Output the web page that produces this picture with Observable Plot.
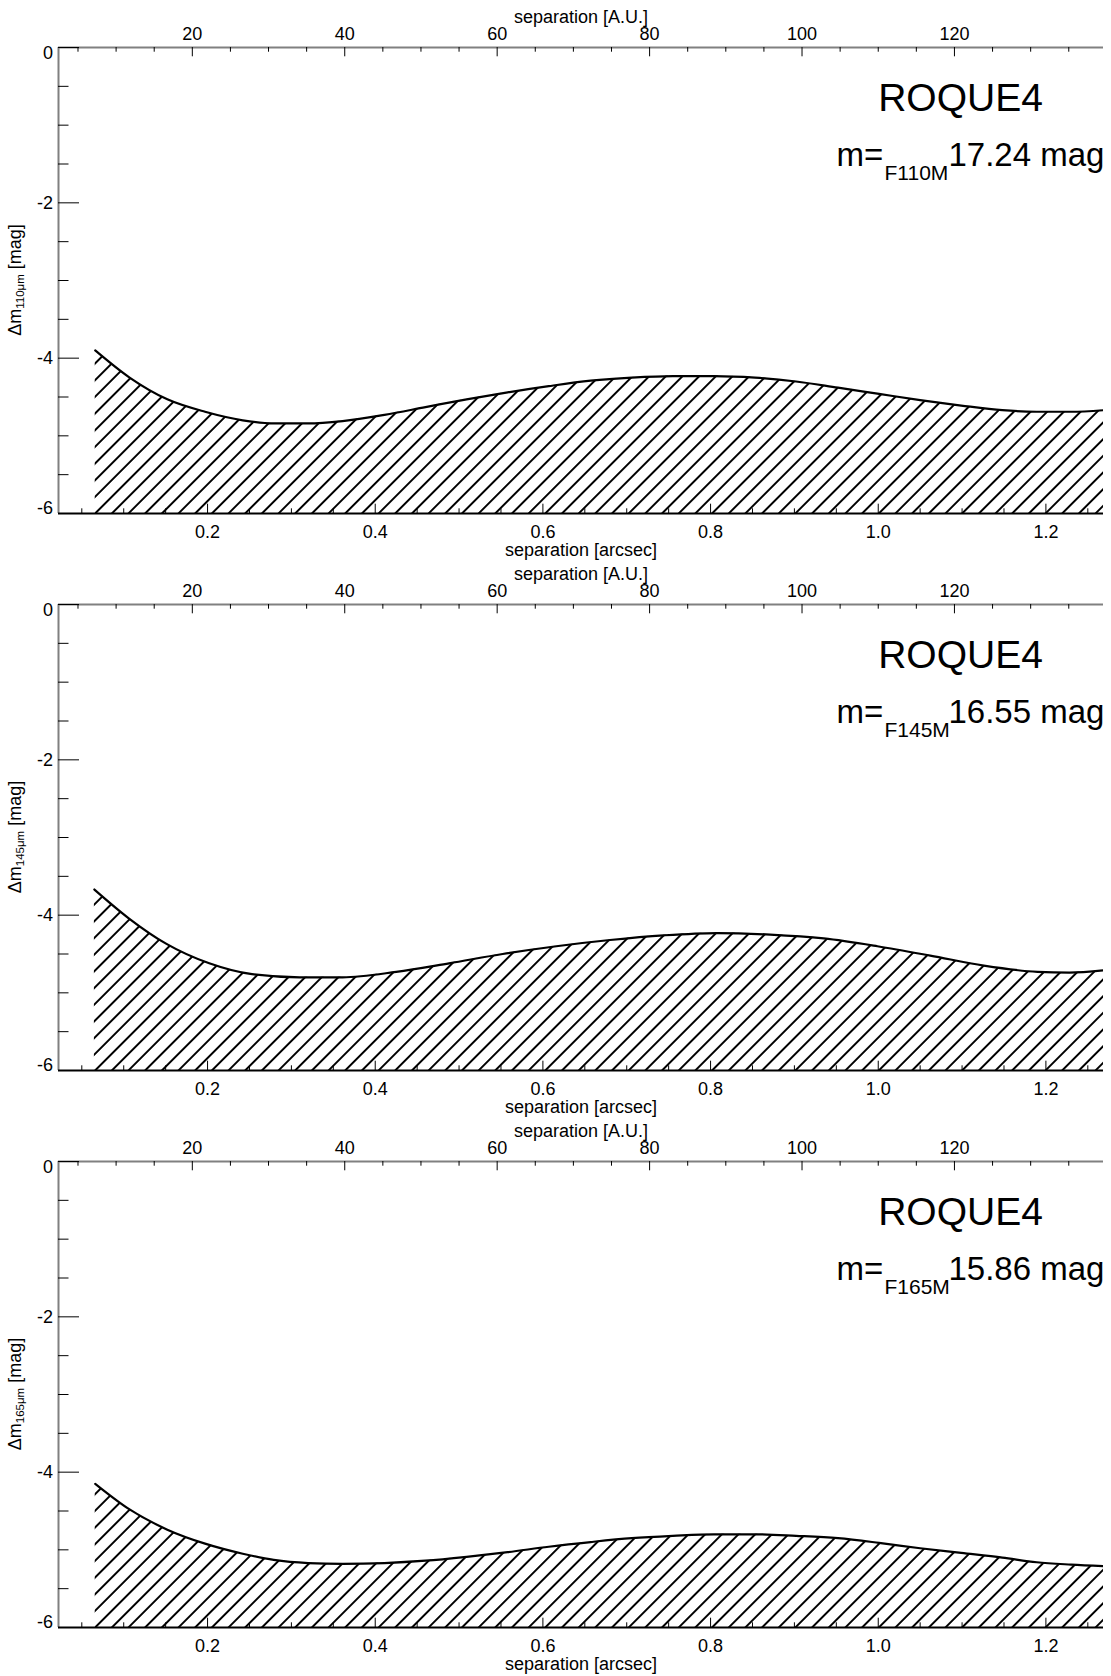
<!DOCTYPE html>
<html><head><meta charset="utf-8">
<script src="https://cdn.jsdelivr.net/npm/d3@7"></script>
<script src="https://cdn.jsdelivr.net/npm/@observablehq/plot@0.6"></script>
<style>
html,body{margin:0;padding:0;background:#fff;}
#chart{width:1111px;}
#chart svg{display:block;overflow:visible;}
</style></head><body><div id="chart"></div>
<script>
// ---- data ----
const auPerArcsec = 110;                 // distance used for the top axis (AU per arcsec)
const starName = "ROQUE4";

const sep110 = [0.066, 0.107, 0.152, 0.197, 0.242, 0.279, 0.320, 0.361, 0.411, 0.460, 0.509, 0.558, 0.607, 0.657, 0.706, 0.755, 0.804, 0.853, 0.902, 0.952, 1.001, 1.050, 1.099, 1.148, 1.189, 1.230, 1.269];
const dm110  = [-3.90, -4.25, -4.53, -4.69, -4.80, -4.84, -4.84, -4.81, -4.73, -4.63, -4.53, -4.44, -4.36, -4.29, -4.25, -4.23, -4.23, -4.25, -4.30, -4.38, -4.46, -4.54, -4.61, -4.67, -4.69, -4.69, -4.67];

const sep145 = [0.065, 0.106, 0.151, 0.202, 0.253, 0.310, 0.361, 0.425, 0.488, 0.552, 0.616, 0.680, 0.744, 0.807, 0.871, 0.935, 0.999, 1.062, 1.126, 1.190, 1.228, 1.269];
const dm145  = [-3.67, -4.04, -4.37, -4.62, -4.76, -4.80, -4.80, -4.73, -4.62, -4.50, -4.40, -4.32, -4.26, -4.23, -4.25, -4.30, -4.40, -4.52, -4.65, -4.73, -4.74, -4.71];

const sep165 = [0.066, 0.107, 0.152, 0.197, 0.242, 0.279, 0.320, 0.361, 0.411, 0.460, 0.509, 0.558, 0.607, 0.657, 0.706, 0.755, 0.804, 0.853, 0.902, 0.952, 1.001, 1.050, 1.099, 1.148, 1.189, 1.230, 1.269];
const dm165  = [-4.15, -4.48, -4.74, -4.92, -5.05, -5.13, -5.17, -5.18, -5.17, -5.14, -5.09, -5.03, -4.96, -4.90, -4.85, -4.82, -4.80, -4.80, -4.82, -4.85, -4.91, -4.98, -5.04, -5.10, -5.16, -5.19, -5.21];

const bands   = ["110", "145", "165"];
const filters = ["F110M", "F145M", "F165M"];
const mags    = ["17.24", "16.55", "15.86"];

const xDomain = [0.0222, 1.2687];
const yDomain = [-6, 0];
const xMajor = [0.2, 0.4, 0.6, 0.8, 1.0, 1.2];
const xMinor = [0.05, 0.1, 0.15, 0.25, 0.3, 0.35, 0.45, 0.5, 0.55, 0.65, 0.7, 0.75, 0.85, 0.9, 0.95, 1.05, 1.1, 1.15, 1.25];
const auMajor = [20, 40, 60, 80, 100, 120];
const auMinor = [5, 10, 15, 25, 30, 35, 45, 50, 55, 65, 70, 75, 85, 90, 95, 105, 110, 115, 125, 130, 135];
const yMajorMid = [-2, -4];
const yMinor = [-0.5, -1, -1.5, -2.5, -3, -3.5, -4.5, -5, -5.5];
const yMajor = [0, -2, -4, -6];

const seps = [sep110, sep145, sep165];
const dms = [dm110, dm145, dm165];

// ---- layout ----
const W = 1111, ML = 58, MR = 8, MT = 47, PH = 466;
const PW = W - ML - MR;
const font = "'Liberation Sans', Arial, Helvetica, sans-serif";
const chart = document.getElementById("chart");

bands.forEach((band, i) => {
  const H = i === 2 ? 562 : 557;
  const MB = H - MT - PH;
  const data = seps[i].map((s, k) => ({s, m: dms[i][k]}));
  const svg = Plot.plot({
    width: W, height: H,
    marginLeft: ML, marginRight: MR, marginTop: MT, marginBottom: MB,
    x: {type: "linear", domain: xDomain, axis: null},
    y: {type: "linear", domain: yDomain, axis: null},
    style: {fontFamily: font, overflow: "visible", background: "transparent", color: "black"},
    marks: [
      Plot.areaY(data, {x: "s", y1: -6, y2: "m", fill: `url(#hatch${i})`, curve: "monotone-x", clip: true}),
      Plot.line(data, {x: "s", y: "m", stroke: "black", strokeWidth: 2.2, curve: "monotone-x", clip: true}),
      Plot.ruleX([xDomain[0]], {stroke: "#808080", strokeWidth: 2}),
      Plot.ruleY([0], {stroke: "#808080", strokeWidth: 2}),
      Plot.ruleY([-6], {stroke: "black", strokeWidth: 2}),
      Plot.tickY(yMajor, {y: d => d, insetRight: PW - 21, stroke: "black"}),
      Plot.tickY(yMinor, {y: d => d, insetRight: PW - 10.5, stroke: "black"}),
      Plot.tickX(xMajor, {x: d => d, insetTop: PH - 9.3, stroke: "black"}),
      Plot.tickX(xMinor, {x: d => d, insetTop: PH - 4.7, stroke: "black"}),
      Plot.tickX(auMajor, {x: d => d / auPerArcsec, insetBottom: PH - 9.3, stroke: "black"}),
      Plot.tickX(auMinor, {x: d => d / auPerArcsec, insetBottom: PH - 4.7, stroke: "black"}),
      // tick labels
      Plot.text(xMajor, {x: d => d, text: d => d.toFixed(1), frameAnchor: "bottom", lineAnchor: "bottom", dy: 24, fontSize: 18}),
      Plot.text(["separation [arcsec]"], {frameAnchor: "bottom", lineAnchor: "bottom", dy: 42, fontSize: 18}),
      Plot.text(auMajor, {x: d => d / auPerArcsec, text: d => String(d), frameAnchor: "top", lineAnchor: "bottom", dy: -7.3, fontSize: 18}),
      Plot.text(["separation [A.U.]"], {frameAnchor: "top", lineAnchor: "bottom", dy: -25, fontSize: 18}),
      Plot.text(yMajorMid, {y: d => d, text: d => String(d), frameAnchor: "left", textAnchor: "end", dx: -5.6, fontSize: 18}),
      Plot.text([0], {y: d => d, text: d => String(d), frameAnchor: "left", textAnchor: "end", dx: -5.6, dy: 5.5, fontSize: 18}),
      Plot.text([-6], {y: d => d, text: d => String(d), frameAnchor: "left", textAnchor: "end", dx: -5.6, dy: -4.8, fontSize: 18}),
      // annotations
      Plot.text([starName], {frameAnchor: "top-right", textAnchor: "middle", lineAnchor: "bottom", dx: -143, dy: 63, fontSize: 39}),
      Plot.text(["m="], {frameAnchor: "top-right", textAnchor: "start", lineAnchor: "bottom", dx: -267, dy: 118, fontSize: 33}),
      Plot.text([filters[i]], {frameAnchor: "top-right", textAnchor: "start", lineAnchor: "bottom", dx: -219, dy: 132, fontSize: 21}),
      Plot.text([mags[i] + " mag"], {frameAnchor: "top-right", textAnchor: "start", lineAnchor: "bottom", dx: -155, dy: 118, fontSize: 33})
    ]
  });
  const s = d3.select(svg);
  const defs = s.insert("defs", ":first-child");
  defs.append("pattern")
    .attr("id", `hatch${i}`)
    .attr("patternUnits", "userSpaceOnUse")
    .attr("width", 11.79).attr("height", 11.79)
    .attr("patternTransform", "rotate(45)")
    .append("line")
    .attr("x1", 5.9).attr("x2", 5.9).attr("y1", -1).attr("y2", 12.8)
    .attr("stroke", "black").attr("stroke-width", 1)
    .attr("shape-rendering", "crispEdges");
  const t = s.append("text")
    .attr("transform", `translate(21,${MT + PH / 2}) rotate(-90)`)
    .attr("text-anchor", "middle")
    .attr("font-family", font)
    .attr("font-size", 18)
    .attr("fill", "black");
  t.append("tspan").text("Δm");
  t.append("tspan").attr("font-size", 11.5).attr("dy", 3).text(band + "μm");
  t.append("tspan").attr("dy", -3).text(" [mag]");
  chart.appendChild(svg);
});
</script>
</body></html>
